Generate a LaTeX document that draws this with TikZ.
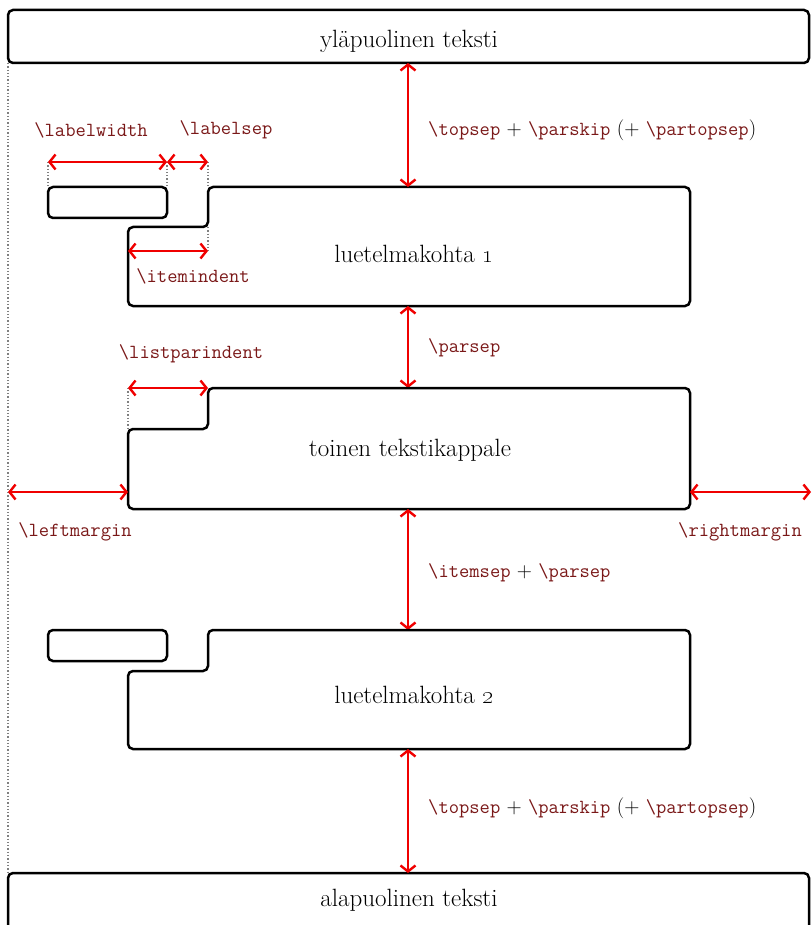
\documentclass[tikz,border=0pt]{standalone}
\usetikzlibrary{arrows.meta}
\definecolor{macro}{RGB}{122,24,24}
\definecolor{dimred}{RGB}{240,0,0}
\newcommand{\mac}[1]{{\fontsize{20}{24}\selectfont\ttfamily\color{macro}\textbackslash #1}}
\begin{document}
\begin{tikzpicture}[x=1pt,y=-1pt,
  every node/.style={font=\fontsize{25}{30}\selectfont, inner sep=0pt},
  dimlabel/.style={anchor=west, font=\fontsize{21}{25}\selectfont},
  box/.style={draw=black, line width=2.5pt, rounded corners=5pt},
  dim/.style={draw=dimred, line width=2.4pt, {Straight Barb[length=6pt,width=15pt]}-{Straight Barb[length=6pt,width=15pt]}},
  guide/.style={draw=gray, line width=1.3pt, dotted}]
\useasboundingbox (0,0) rectangle (811,925);
\clip (0,0) rectangle (811,925);

% outer text boxes
\draw[box] (8,10) rectangle (809,63);
\node (top) at (409,41) {yläpuolinen teksti};
\draw[box] (8,873) rectangle (809,960);
\node (bot) at (409,900) {alapuolinen teksti};

% left margin guide
\coordinate (gtop) at (8,63);
\coordinate (gbot) at (8,873);
\draw[guide] (gtop) -- (gbot);

% item 1
\draw[box] (208,187) -- (690,187) -- (690,306) -- (128,306) -- (128,227) -- (208,227) -- cycle;
\draw[box] (48,187) rectangle (167,218);
\node (it1) at (414,254) {luetelmakohta \oldstylenums{1}};

% item 1 dimensions
\coordinate (lwA) at (48,162);
\coordinate (lwB) at (167,162);
\coordinate (lsB) at (208,162);
\coordinate (lwA0) at (48,187);
\coordinate (lwB0) at (167,187);
\coordinate (lsB0) at (208,187);
\draw[guide] (lwA) -- (lwA0);
\draw[guide] (lwB) -- (lwB0);
\draw[guide] (lsB) -- (lsB0);
\draw[dim] (lwA) -- (lwB);
\draw[dim] (lwB) -- (lsB);
\node (lw) at (91,130) {\mac{labelwidth}};
\node (ls) at (226,130) {\mac{labelsep}};

\coordinate (iiA) at (128,251);
\coordinate (iiB) at (208,251);
\coordinate (iiB0) at (208,227);
\draw[guide] (iiB0) -- (iiB);
\draw[dim] (iiA) -- (iiB);
\node (ii) at (193,276) {\mac{itemindent}};

% topsep
\coordinate (ts1a) at (408,63);
\coordinate (ts1b) at (408,187);
\draw[dim] (ts1a) -- (ts1b);
\node[dimlabel] (ts1) at (428,130) {\mac{topsep} + \mac{parskip} (+ \mac{partopsep})};

% parsep
\coordinate (psa) at (408,306);
\coordinate (psb) at (408,388);
\draw[dim] (psa) -- (psb);
\node[dimlabel] (ps) at (428,348) {\mac{parsep}};

% paragraph 2
\draw[box] (208,388) -- (690,388) -- (690,509) -- (128,509) -- (128,429) -- (208,429) -- cycle;
\node (par) at (410,450) {toinen tekstikappale};
\coordinate (lpA) at (128,388);
\coordinate (lpB) at (208,388);
\coordinate (lpA0) at (128,429);
\draw[guide] (lpA) -- (lpA0);
\draw[dim] (lpA) -- (lpB);
\node (lp) at (191,354) {\mac{listparindent}};

% margins
\coordinate (lmA) at (8,492);
\coordinate (lmB) at (128,492);
\draw[dim] (lmA) -- (lmB);
\node (lm) at (75,532) {\mac{leftmargin}};
\coordinate (rmA) at (690,492);
\coordinate (rmB) at (811,492);
\draw[dim] (rmA) -- (rmB);
\node (rm) at (740,532) {\mac{rightmargin}};

% itemsep
\coordinate (isa) at (408,509);
\coordinate (isb) at (408,630);
\draw[dim] (isa) -- (isb);
\node[dimlabel] (is) at (428,573) {\mac{itemsep} + \mac{parsep}};

% item 2
\draw[box] (208,630) -- (690,630) -- (690,749) -- (128,749) -- (128,671) -- (208,671) -- cycle;
\draw[box] (48,630) rectangle (167,661);
\node (it2) at (414,695) {luetelmakohta \oldstylenums{2}};

% bottom topsep
\coordinate (ts2a) at (408,749);
\coordinate (ts2b) at (408,873);
\draw[dim] (ts2a) -- (ts2b);
\node[dimlabel] (ts2) at (428,808) {\mac{topsep} + \mac{parskip} (+ \mac{partopsep})};
\end{tikzpicture}
\end{document}
